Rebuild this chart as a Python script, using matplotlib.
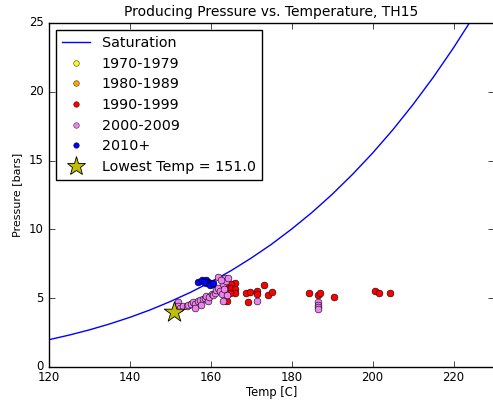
import numpy as np
import matplotlib
matplotlib.use('Agg')
import matplotlib.pyplot as plt
from matplotlib.lines import Line2D

plt.style.use('classic')

# saturation curve (steam table values, bars)
sat_temp = [120, 125, 130, 135, 140, 145, 150, 155, 160, 165, 170, 175, 180,
            185, 190, 195, 200, 205, 210, 215, 220, 225, 230]
sat_pres = [1.985, 2.32, 2.70, 3.13, 3.61, 4.15, 4.76, 5.43, 6.18, 7.00, 7.92,
            8.92, 10.03, 11.23, 12.55, 13.99, 15.55, 17.24, 19.08, 21.06,
            23.20, 25.50, 27.97]

temp_1970 = []
pres_1970 = []
temp_1980 = []
pres_1980 = []

temp_1990 = [165.9, 165.1, 164.7, 165.9, 165.9, 164.7, 163.0, 164.0, 168.6, 169.6,
             171.3, 171.3, 173.1, 174.1, 175.2, 169.2, 184.2, 186.5, 187.1, 190.5,
             200.5, 201.5, 204.3, 155.1, 163.5]
pres_1990 = [6.14, 6.02, 5.77, 5.65, 5.41, 5.41, 5.41, 4.81, 5.36, 5.45,
             5.53, 5.29, 5.94, 5.24, 5.46, 4.69, 5.41, 5.22, 5.41, 5.12,
             5.53, 5.41, 5.41, 4.6, 5.9]

temp_2000 = [151.9, 151.9, 152.5, 153.2, 154.0, 154.4, 155.0, 155.6, 156.2, 156.8,
             157.4, 158.1, 158.5, 158.9, 159.3, 159.6, 160.2, 160.6, 161.0, 161.4,
             161.8, 162.3, 162.7, 163.0, 163.5, 161.8, 163.8, 163.0, 164.0, 171.3,
             162.5, 163.2, 164.3, 186.5, 186.5, 186.5, 186.5, 157.5, 156.0]
pres_2000 = [4.69, 4.45, 4.3, 4.45, 4.4, 4.5, 4.55, 4.69, 4.6, 4.8,
             4.9, 4.93, 5.05, 5.17, 4.77, 5.1, 5.29, 5.2, 5.41, 5.6,
             5.77, 5.53, 5.29, 6.01, 6.5, 6.57, 6.25, 4.81, 5.22, 4.81,
             6.3, 5.7, 6.45, 4.69, 4.5, 4.33, 4.23, 4.5, 4.3]

temp_2010 = [156.8, 157.9, 158.5, 158.9, 159.3, 159.8, 160.2, 158.9, 158.3, 159.9, 160.5]
pres_2010 = [6.21, 6.33, 6.26, 6.33, 6.18, 6.09, 6.01, 6.09, 6.18, 5.94, 6.14]

lowest_temp = 151.0
lowest_pres = 4.03

groups = [
    ('1970-1979', temp_1970, pres_1970, 'yellow'),
    ('1980-1989', temp_1980, pres_1980, 'orange'),
    ('1990-1999', temp_1990, pres_1990, 'red'),
    ('2000-2009', temp_2000, pres_2000, 'violet'),
    ('2010+', temp_2010, pres_2010, 'blue'),
]

fig = plt.figure(figsize=(4.93, 4.0), dpi=100, facecolor='white')
ax = fig.add_axes([0.0994, 0.0825, 0.9026, 0.86])

ax.plot(sat_temp, sat_pres, color='blue', lw=1.0)
for name, t, p, c in groups:
    ax.scatter(t, p, s=24, c=c, edgecolors='black', linewidths=0.4, zorder=3)
ax.scatter([lowest_temp], [lowest_pres], marker='*', s=240, c='y',
           edgecolors='black', linewidths=0.6, zorder=4)

ax.set_xlim(120, 230)
ax.set_ylim(0, 25)
ax.set_xticks([120, 140, 160, 180, 200, 220])
ax.set_yticks([0, 5, 10, 15, 20, 25])
ax.tick_params(labelsize=8.4)
ax.tick_params(axis='x', pad=3)
ax.set_xlabel('Temp [C]', fontsize=8.3, labelpad=1)
ax.set_ylabel('Pressure [bars]', fontsize=8)
ax.set_title('Producing Pressure vs. Temperature, TH15', fontsize=10)

handles = [Line2D([], [], color='blue', lw=1.0)]
labels = ['Saturation']
for name, t, p, c in groups:
    handles.append(Line2D([], [], ls='none', marker='o', markersize=4,
                          markerfacecolor=c, markeredgecolor='black', markeredgewidth=0.3))
    labels.append(name)
handles.append(Line2D([], [], ls='none', marker='*', markersize=14,
                      markerfacecolor='y', markeredgecolor='black', markeredgewidth=0.6))
labels.append('Lowest Temp = %.1f' % lowest_temp)
ax.legend(handles, labels, loc='upper left', numpoints=1, fontsize=10.3,
          labelspacing=0.47, frameon=True, fancybox=False)

fig.savefig('out.png', dpi=100, facecolor='white')
